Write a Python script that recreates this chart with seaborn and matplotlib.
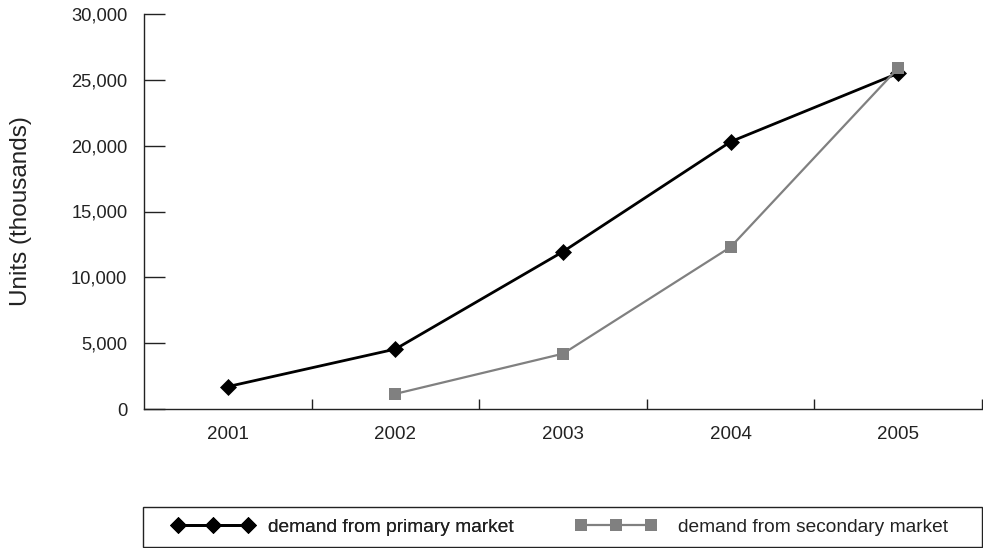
import matplotlib
matplotlib.use("Agg")
import matplotlib.pyplot as plt
from matplotlib.patches import Rectangle
from matplotlib.ticker import FuncFormatter, FixedLocator
import seaborn as sns
import pandas as pd

years = ["2001", "2002", "2003", "2004", "2005"]
primary = [1700, 4550, 11950, 20300, 25500]
secondary_years = ["2002", "2003", "2004", "2005"]
secondary = [1150, 4200, 12300, 25900]
primary_label = "demand from primary market"
secondary_label = "demand from secondary market"
y_ticks = [0, 5000, 10000, 15000, 20000, 25000, 30000]
y_title = "Units (thousands)"

sns.set_theme(style="white")
plt.rcParams["font.family"] = ["Liberation Sans", "DejaVu Sans"]

pos = {y: i for i, y in enumerate(years)}
df = pd.concat([
    pd.DataFrame({"x": [pos[y] for y in years], "value": primary, "series": primary_label}),
    pd.DataFrame({"x": [pos[y] for y in secondary_years], "value": secondary, "series": secondary_label}),
], ignore_index=True)

W, H = 983, 548
fig = plt.figure(figsize=(W / 100, H / 100), dpi=100)
ax = fig.add_axes([144 / W, 1 - 409 / H, (982 - 144) / W, (409 - 14) / H])

sns.lineplot(
    data=df, x="x", y="value", hue="series", style="series",
    palette={primary_label: "#000000", secondary_label: "#808080"},
    markers={primary_label: "D", secondary_label: "s"},
    dashes=False, ax=ax, legend=False, sort=False,
)
lines = ax.get_lines()
styles = {
    primary_label: dict(lw=2.0, ms=8, mec="#000000", mfc="#000000", mew=0.5),
    secondary_label: dict(lw=1.6, ms=8.5, mec="#808080", mfc="#808080", mew=0),
}
for ln, lab in zip(lines, [primary_label, secondary_label]):
    s = styles[lab]
    ln.set_linewidth(s["lw"])
    ln.set_markersize(s["ms"])
    ln.set_markeredgecolor(s["mec"])
    ln.set_markerfacecolor(s["mfc"])
    ln.set_markeredgewidth(s["mew"])
    ln.set_label(lab)

ax.set_xlim(-0.5, len(years) - 0.5)
ax.set_ylim(0, 30000)
ax.set_xlabel("")
ax.set_ylabel(y_title, fontsize=17.5, color="#222222", labelpad=28)

# year labels sit in the middle of each band; short tick marks separate the bands
ax.set_xticks(range(len(years)))
ax.set_xticklabels(years, fontsize=13.5, color="#222222")
ax.xaxis.set_minor_locator(FixedLocator([i + 0.5 for i in range(len(years))]))
ax.tick_params(axis="x", which="major", length=0, pad=12)
ax.tick_params(axis="x", which="minor", direction="in", length=7, width=1.0, color="#222222", bottom=True)

ax.set_yticks(y_ticks)
ax.yaxis.set_major_formatter(FuncFormatter(lambda v, p: f"{int(v):,}"))
ax.tick_params(axis="y", which="major", direction="in", length=15, width=1.0,
               color="#222222", labelsize=13.2, labelcolor="#222222", pad=12, left=True)

for side in ["top", "right"]:
    ax.spines[side].set_visible(False)
for side in ["left", "bottom"]:
    ax.spines[side].set_color("#222222")
    ax.spines[side].set_linewidth(1.0)

# legend box spanning the plot width
fig.patches.append(Rectangle((143 / W, 1 - 547 / H), (982 - 143) / W, 40 / H,
                             transform=fig.transFigure, fill=False, edgecolor="#222222", lw=1.0))

leg_kw = dict(loc="center left", frameon=False, numpoints=3, handlelength=4.27,
              fontsize=13.8, borderaxespad=0, borderpad=0)
leg1 = fig.legend([lines[0]], [primary_label], bbox_to_anchor=(172 / W, 1 - 527 / H),
                  handletextpad=0.72, **leg_kw)
leg2 = fig.legend([lines[1]], [secondary_label], bbox_to_anchor=(575 / W, 1 - 527 / H),
                  handletextpad=1.1, **leg_kw)
fig.add_artist(leg1)
for t in list(leg1.get_texts()) + list(leg2.get_texts()):
    t.set_color("#222222")

fig.savefig("out.png", dpi=100)
